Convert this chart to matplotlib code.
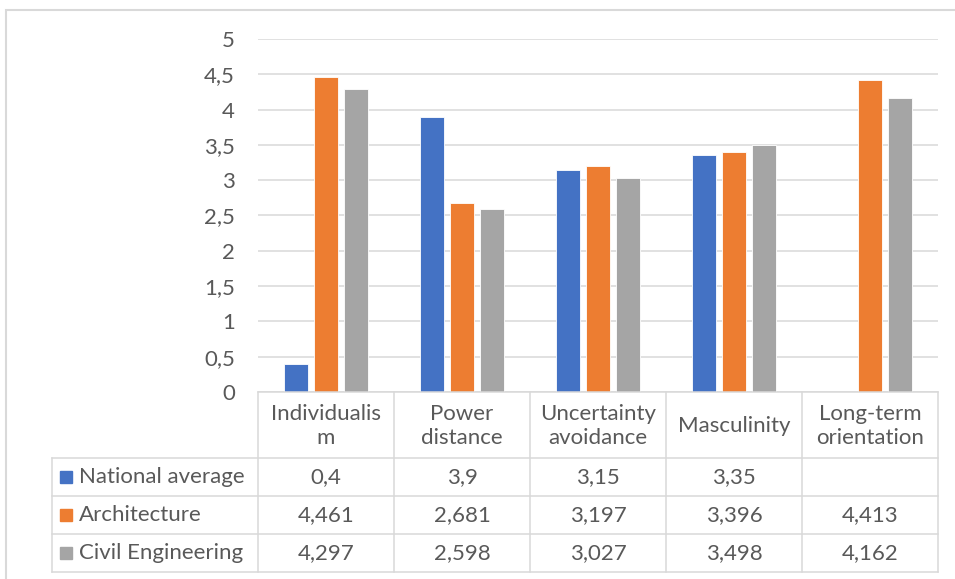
import matplotlib
matplotlib.use("Agg")
import matplotlib.pyplot as plt
import numpy as np

plt.rcParams['font.family'] = ['Lato', 'DejaVu Sans']

# data
kategori = ["Individualis\nm", "Power\ndistance", "Uncertainty\navoidance",
            "Masculinity", "Long-term\norientation"]
seri = ["National average", "Architecture", "Civil Engineering"]
national_average = [0.4, 3.9, 3.15, 3.35, np.nan]
architecture = [4.461, 2.681, 3.197, 3.396, 4.413]
civil_engineering = [4.297, 2.598, 3.027, 3.498, 4.162]
yticks = [0, 0.5, 1, 1.5, 2, 2.5, 3, 3.5, 4, 4.5, 5]
ytick_labels = ["0", "0,5", "1", "1,5", "2", "2,5", "3", "3,5", "4", "4,5", "5"]

warna = ["#4472C4", "#ED7D31", "#A5A5A5"]
teks = "#595959"
garis = "#D9D9D9"
fs = 16

W, H = 955, 579
fig = plt.figure(figsize=(W / 100, H / 100), dpi=100)

# kotak luar chart
fig.patches.append(plt.Rectangle((6 / W, -0.1), 1.1, 1 - 10 / H + 0.1,
                                 transform=fig.transFigure, fill=False,
                                 edgecolor=garis, linewidth=1.5))

# area plot
ax = fig.add_axes([258 / W, 1 - 392 / H, 680 / W, 353 / H])
x = np.arange(len(kategori))
semua = [national_average, architecture, civil_engineering]
lebar = 0.176
jarak = 0.224
for i, (vals, c) in enumerate(zip(semua, warna)):
    ax.bar(x + (i - 1) * jarak, vals, width=lebar, color=c,
           edgecolor="white", linewidth=0.6, zorder=3)

ax.set_xlim(-0.5, len(kategori) - 0.5)
ax.set_ylim(0, 5)
ax.set_yticks(yticks)
ax.set_yticklabels(ytick_labels)
ax.set_xticks([])
ax.tick_params(axis="y", length=0, pad=16.5, labelsize=fs, labelcolor=teks)
for s in ax.spines.values():
    s.set_visible(False)
ax.grid(axis="y", color=garis, linewidth=1.1, zorder=0)

# tabel data di bawah
kiri = -0.5 - 206 / 136  # posisi kolom legenda (satuan kategori)
tb = fig.add_axes([52 / W, 1 - 572 / H, 886 / W, 180 / H])
tb.set_xlim(kiri, len(kategori) - 0.5)
tb.set_ylim(180, 0)
tb.axis("off")

kw = dict(color=garis, linewidth=1.1, clip_on=False)
tb.plot([-0.5, len(kategori) - 0.5], [0, 0], **kw)
for yy in [66, 104, 142, 180]:
    tb.plot([kiri, len(kategori) - 0.5], [yy, yy], **kw)
for k in range(len(kategori) + 1):
    tb.plot([k - 0.5, k - 0.5], [0, 180], **kw)
tb.plot([kiri, kiri], [66, 180], **kw)

for i, nama in enumerate(kategori):
    tb.text(i, 34, nama, ha="center", va="center", fontsize=fs,
            color=teks, linespacing=1.2)

for r, (nama, vals, c) in enumerate(zip(seri, semua, warna)):
    yc = 66 + 38 * r + 19
    tb.plot(kiri + 14 / 136, yc, marker="s", markersize=8.5, color=c,
            linestyle="none", clip_on=False)
    tb.text(kiri + 27 / 136, yc, nama, ha="left", va="center",
            fontsize=fs, color=teks)
    for i, v in enumerate(vals):
        if np.isnan(v):
            continue
        tb.text(i, yc, f"{v:g}".replace(".", ","), ha="center", va="center",
                fontsize=fs, color=teks)

fig.savefig("out.png", dpi=100)
